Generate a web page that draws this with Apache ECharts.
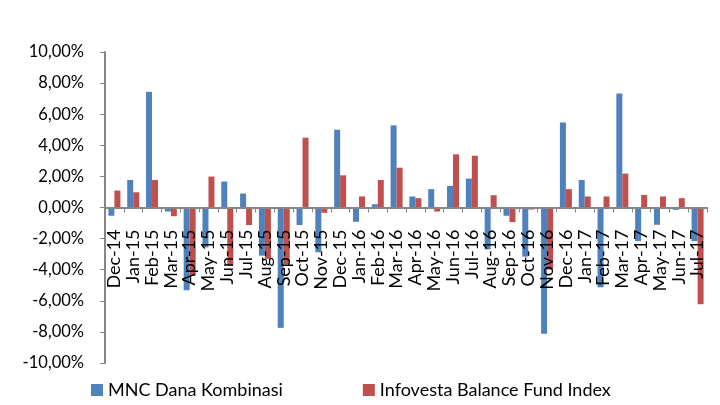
<!DOCTYPE html>
<html><head><meta charset="utf-8">
<script src="https://cdn.jsdelivr.net/npm/echarts@6/dist/echarts.min.js"></script>
<style>html,body{margin:0;padding:0;background:#fff}#c{width:720px;height:405px}</style>
</head><body><div id="c"></div>
<script>
var categories = ["Dec-14","Jan-15","Feb-15","Mar-15","Apr-15","May-15","Jun-15","Jul-15","Aug-15","Sep-15","Oct-15","Nov-15","Dec-15","Jan-16","Feb-16","Mar-16","Apr-16","May-16","Jun-16","Jul-16","Aug-16","Sep-16","Oct-16","Nov-16","Dec-16","Jan-17","Feb-17","Mar-17","Apr-17","May-17","Jun-17","Jul-17"];
var mncDanaKombinasi = [-0.53,1.77,7.44,-0.26,-5.32,-2.56,1.67,0.90,-3.10,-7.74,-1.13,-2.88,5.00,-0.92,0.21,5.28,0.71,1.18,1.39,1.86,-2.69,-0.53,-3.16,-8.12,5.47,1.77,-5.13,7.33,-2.16,-1.11,-0.15,-2.16];
var infovestaBalance = [1.09,0.98,1.77,-0.56,-4.40,1.99,-3.74,-1.13,-3.30,-3.65,4.49,-0.34,2.07,0.71,1.77,2.56,0.60,-0.26,3.42,3.33,0.79,-0.94,-0.13,-4.00,1.18,0.71,0.71,2.18,0.81,0.71,0.60,-6.22];
var seriesNames = ["MNC Dana Kombinasi","Infovesta Balance Fund Index"];

var font = "Lato, 'Open Sans', sans-serif";
var chart = echarts.init(document.getElementById('c'));
chart.setOption({
  animation:false,
  textStyle:{fontFamily:font},
  color:['#4F81BD','#C0504D'],
  grid:{left:105,right:13,top:52,bottom:42,containLabel:false,outerBoundsMode:'none'},
  legend:{
    top:376,left:86,itemWidth:12,itemHeight:12,itemGap:80,icon:'rect',
    textStyle:{fontFamily:font,fontSize:18,color:'#000'},
    data:seriesNames
  },
  xAxis:{
    type:'category',data:categories,z:5,
    offset:-155.5,
    axisLine:{onZero:false,lineStyle:{color:'#868686',width:2}},
    axisTick:{show:true,alignWithLabel:false,length:5,lineStyle:{color:'#868686'}},
    axisLabel:{rotate:90,interval:0,fontSize:18,color:'#000',fontFamily:font,margin:22},
    splitLine:{show:false}
  },
  yAxis:{
    type:'value',min:-10,max:10,interval:2,
    axisLine:{show:true,lineStyle:{color:'#868686',width:2}},
    axisTick:{show:true,length:5,lineStyle:{color:'#868686'}},
    axisLabel:{fontSize:16.5,color:'#000',fontFamily:font,margin:21,
      formatter:function(v){return v.toFixed(2).replace('.',',')+'%';}},
    splitLine:{show:false}
  },
  series:[
    {name:seriesNames[0],type:'bar',data:mncDanaKombinasi,barWidth:6,barGap:'0%'},
    {name:seriesNames[1],type:'bar',data:infovestaBalance,barWidth:6,barGap:'0%'}
  ]
});
</script></body></html>
